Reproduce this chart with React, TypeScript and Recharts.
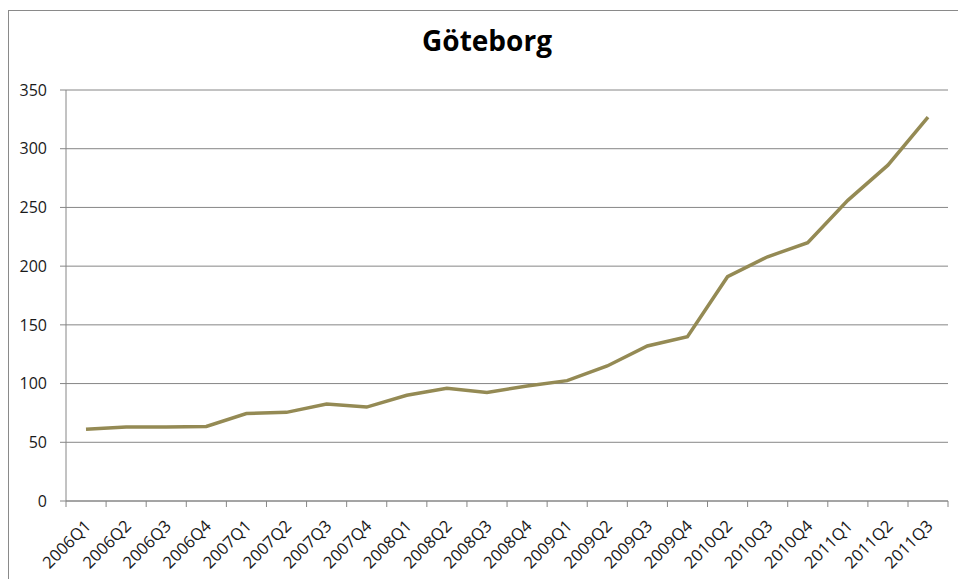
import { LineChart, Line, XAxis, YAxis, CartesianGrid } from 'recharts'

// quarterly index, Göteborg (2010Q1 missing in the source series)
const quarters = [
  '2006Q1', '2006Q2', '2006Q3', '2006Q4',
  '2007Q1', '2007Q2', '2007Q3', '2007Q4',
  '2008Q1', '2008Q2', '2008Q3', '2008Q4',
  '2009Q1', '2009Q2', '2009Q3', '2009Q4',
  '2010Q2', '2010Q3', '2010Q4',
  '2011Q1', '2011Q2', '2011Q3',
]
const values = [
  61, 63, 63, 63.5,
  74.5, 75.5, 82.5, 80,
  90, 96, 92.5, 98,
  102.5, 115, 132, 140,
  191, 208, 220,
  256, 286, 327,
]
const yTicks = [0, 50, 100, 150, 200, 250, 300, 350]

const data = quarters.map((quarter, i) => ({ quarter, value: values[i] }))

const GRID = '#868686'
const LINE = '#948A54'
const TEXT = '#1a1a1a'
const FONT = '"Open Sans", sans-serif'
const HALF_BAND = 20

function QuarterTick(props: any) {
  const { x, y, payload, index } = props
  const tx = x + 6
  const ty = y + 26
  return (
    <g>
      <line x1={x - HALF_BAND} y1={y} x2={x - HALF_BAND} y2={y + 6} stroke={GRID} />
      {index === quarters.length - 1 && (
        <line x1={x + HALF_BAND} y1={y} x2={x + HALF_BAND} y2={y + 6} stroke={GRID} />
      )}
      <text
        x={tx}
        y={ty}
        textAnchor="end"
        fontSize={16.5}
        fontFamily={FONT}
        fill={TEXT}
        transform={`rotate(-45, ${tx}, ${ty})`}
      >
        {payload.value}
      </text>
    </g>
  )
}

export default function App() {
  return (
    <div
      style={{
        position: 'absolute',
        left: 0,
        top: 0,
        width: 958,
        height: 579,
        overflow: 'hidden',
        background: '#fff',
      }}
    >
      <div
        style={{
          position: 'absolute',
          left: 8,
          top: 10,
          width: 980,
          height: 600,
          border: '1px solid #8a8a8a',
        }}
      />
      <div
        style={{
          position: 'absolute',
          left: 8,
          top: 21,
          width: 958,
          textAlign: 'center',
          fontFamily: FONT,
          fontWeight: 700,
          fontSize: 28,
          color: '#000',
        }}
      >
        Göteborg
      </div>
      <div style={{ position: 'absolute', left: 0, top: 0 }}>
        <LineChart
          width={958}
          height={579}
          data={data}
          margin={{ top: 90, right: 10, bottom: 0, left: 0 }}
        >
          <CartesianGrid vertical={false} stroke={GRID} />
          <XAxis
            dataKey="quarter"
            interval={0}
            height={78}
            padding={{ left: HALF_BAND, right: HALF_BAND }}
            axisLine={{ stroke: GRID }}
            tickLine={false}
            tickSize={0}
            tickMargin={0}
            tick={<QuarterTick />}
          />
          <YAxis
            width={66}
            domain={[0, 350]}
            ticks={yTicks}
            interval={0}
            axisLine={{ stroke: GRID }}
            tickLine={{ stroke: GRID }}
            tickSize={6}
            tickMargin={13}
            tick={{ fontSize: 16, fontFamily: FONT, fill: TEXT }}
          />
          <Line
            type="linear"
            dataKey="value"
            stroke={LINE}
            strokeWidth={3.5}
            dot={false}
            activeDot={false}
            isAnimationActive={false}
          />
        </LineChart>
      </div>
    </div>
  )
}
